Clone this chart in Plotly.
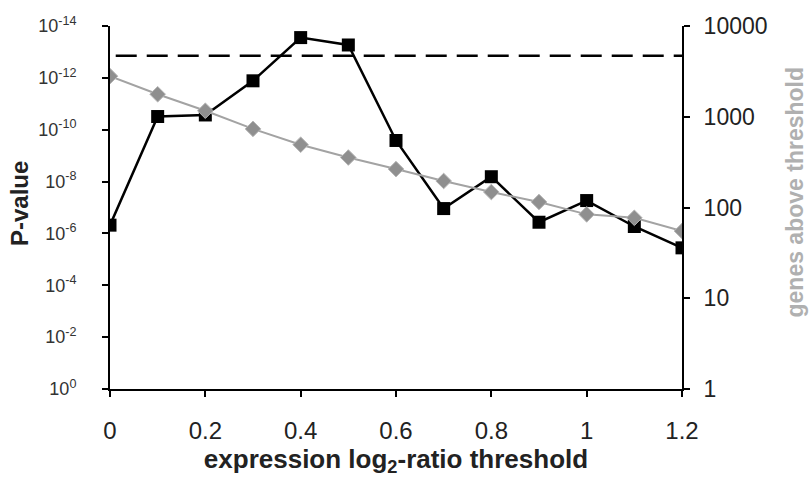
import plotly.graph_objects as go

thresholds = [0, 0.1, 0.2, 0.3, 0.4, 0.5, 0.6, 0.7, 0.8, 0.9, 1.0, 1.1, 1.2]
p_values = [4.8e-7, 3.1e-11, 2.7e-11, 1.3e-12, 2.8e-14, 5.4e-14, 2.6e-10, 1.1e-7, 6.5e-9, 3.7e-7, 5.4e-8, 5.4e-7, 3.6e-6]
genes_above = [2800, 1770, 1165, 735, 492, 355, 265, 196, 148, 115, 84, 77, 55]
significance_p = 1.4e-13
p_tick_vals = [1, 1e-2, 1e-4, 1e-6, 1e-8, 1e-10, 1e-12, 1e-14]
p_tick_text = ["10<sup>0</sup>", "10<sup>-2</sup>", "10<sup>-4</sup>", "10<sup>-6</sup>",
               "10<sup>-8</sup>", "10<sup>-10</sup>", "10<sup>-12</sup>", "10<sup>-14</sup>"]
gene_tick_vals = [1, 10, 100, 1000, 10000]
gene_tick_text = ["1", "10", "100", "1000", "10000"]
x_tick_vals = [0, 0.2, 0.4, 0.6, 0.8, 1.0, 1.2]
x_tick_text = ["0", "0.2", "0.4", "0.6", "0.8", "1", "1.2"]

FONT = "Liberation Sans, Arial, sans-serif"

fig = go.Figure()

fig.add_trace(go.Scatter(
    x=[thresholds[0] + 0.012, thresholds[-1]], y=[significance_p, significance_p],
    mode="lines", line=dict(color="black", width=2.5, dash="21px,10px"),
    yaxis="y", showlegend=False, hoverinfo="skip"))

fig.add_trace(go.Scatter(
    x=thresholds, y=genes_above, yaxis="y2", mode="lines+markers",
    line=dict(color="#a3a3a3", width=2),
    marker=dict(symbol="diamond", size=12, color="#8f8f8f",
                line=dict(color="#b5b5b5", width=1)),
    showlegend=False))

fig.add_trace(go.Scatter(
    x=thresholds, y=p_values, yaxis="y", mode="lines+markers",
    line=dict(color="black", width=2.5),
    marker=dict(symbol="square", size=13, color="black"),
    showlegend=False))

fig.update_layout(
    width=811, height=480,
    margin=dict(l=110, r=129, t=26, b=87),
    paper_bgcolor="white", plot_bgcolor="white",
    font=dict(family=FONT, color="black"),
    xaxis=dict(
        range=[0, 1.2], tickvals=x_tick_vals, ticktext=x_tick_text,
        showgrid=False, zeroline=False, showline=True, linecolor="black", linewidth=2,
        ticks="outside", ticklen=6, tickwidth=2, tickcolor="black",
        tickfont=dict(size=24, color="#222"), ticklabelstandoff=13,
        title=dict(text="<b>expression log<sub>2</sub>-ratio threshold</b>",
                   font=dict(size=26, color="#222"), standoff=6),
    ),
    yaxis=dict(
        type="log", range=[0, -14], tickvals=p_tick_vals, ticktext=p_tick_text,
        showgrid=False, zeroline=False, showline=True, linecolor="black", linewidth=2,
        ticks="outside", ticklen=6, tickwidth=2, tickcolor="black",
        tickfont=dict(size=18, color="#333"), ticklabelstandoff=22,
    ),
    yaxis2=dict(
        type="log", range=[0, 4], overlaying="y", side="right",
        tickvals=gene_tick_vals, ticktext=gene_tick_text,
        showgrid=False, zeroline=False, showline=True, linecolor="black", linewidth=2,
        ticks="outside", ticklen=6, tickwidth=2, tickcolor="black",
        tickfont=dict(size=23, color="#222"), ticklabelstandoff=9,
    ),
    annotations=[
        dict(text="<b>P-value</b>", xref="paper", yref="paper", x=-0.157, y=0.51,
             textangle=-90, showarrow=False, xanchor="center", yanchor="middle",
             font=dict(size=24, color="#222", family=FONT)),
        dict(text="<b>genes above threshold</b>", xref="paper", yref="paper", x=1.198, y=0.542,
             textangle=-90, showarrow=False, xanchor="center", yanchor="middle",
             font=dict(size=23, color="#b0b0b0", family=FONT)),
    ],
)

fig.write_html("out.html", config={"displayModeBar": False},
               post_script="document.body.style.margin='0';")
